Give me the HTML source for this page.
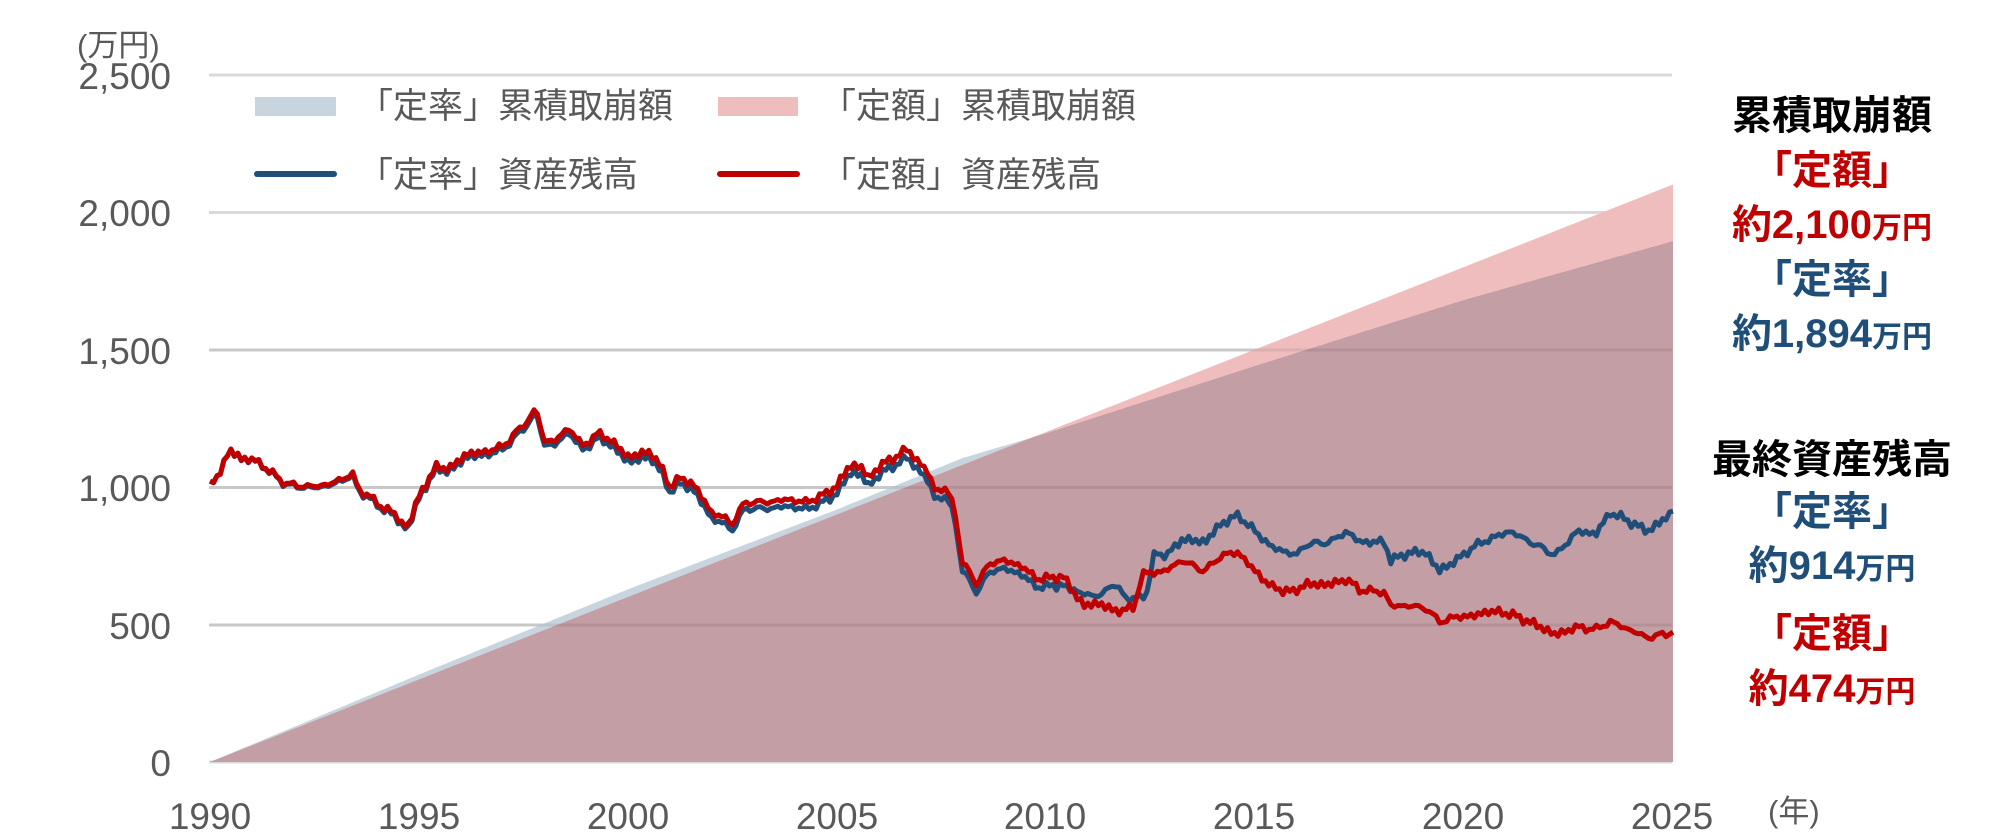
<!DOCTYPE html>
<html><head><meta charset="utf-8">
<style>
html,body{margin:0;padding:0;background:#fff;}
body{width:2000px;height:833px;overflow:hidden;}
svg text{font-family:"Liberation Sans","Noto Sans CJK JP",sans-serif;}
</style></head>
<body>
<svg id="s" width="2000" height="833" xmlns="http://www.w3.org/2000/svg">
<g stroke="#d9d9d9" stroke-width="3">
<line x1="209" y1="75" x2="1672" y2="75"/>
<line x1="209" y1="212.5" x2="1672" y2="212.5"/>
<line x1="209" y1="350" x2="1672" y2="350"/>
<line x1="209" y1="487.5" x2="1672" y2="487.5"/>
<line x1="209" y1="625" x2="1672" y2="625"/>
<line x1="209" y1="762" x2="1672" y2="762"/>
</g>
<g id="areas"></g>
<g stroke="#000" stroke-opacity="0.08" stroke-width="3">
<line x1="209" y1="487.5" x2="1672" y2="487.5"/>
<line x1="209" y1="625" x2="1672" y2="625"/>
<line x1="209" y1="350" x2="1672" y2="350"/>
</g>
<g id="lines"></g>
<g font-size="37" fill="#595959" text-anchor="end">
<text x="171" y="89">2,500</text>
<text x="171" y="226">2,000</text>
<text x="171" y="364">1,500</text>
<text x="171" y="501">1,000</text>
<text x="171" y="639">500</text>
<text x="171" y="776">0</text>
</g>
<text x="77" y="56" font-size="31" fill="#595959">(万円)</text>
<g font-size="37" fill="#595959" text-anchor="middle">
<text x="210" y="829">1990</text>
<text x="419" y="829">1995</text>
<text x="628" y="829">2000</text>
<text x="837" y="829">2005</text>
<text x="1045" y="829">2010</text>
<text x="1254" y="829">2015</text>
<text x="1463" y="829">2020</text>
<text x="1672" y="829">2025</text>
</g>
<text x="1768" y="822" font-size="31" fill="#595959">(年)</text>
<rect x="255" y="97" width="81" height="19" fill="#c8d4de"/>
<rect x="718" y="97" width="80" height="19" fill="#efbdbe"/>
<line x1="257" y1="174" x2="334" y2="174" stroke="#1f4e79" stroke-width="6" stroke-linecap="round"/>
<line x1="720" y1="174" x2="797" y2="174" stroke="#c00000" stroke-width="6" stroke-linecap="round"/>
<g font-size="35" fill="#595959">
<text x="358" y="118">「定率」累積取崩額</text>
<text x="821" y="118">「定額」累積取崩額</text>
<text x="358" y="187">「定率」資産残高</text>
<text x="821" y="187">「定額」資産残高</text>
</g>
<g font-weight="bold" text-anchor="middle">
<text x="1832" y="129" font-size="40" fill="#000">累積取崩額</text>
<text x="1832" y="184" font-size="40" fill="#c00000">「定額」</text>
<text x="1832" y="238" font-size="40" fill="#c00000">約2,100<tspan font-size="30">万円</tspan></text>
<text x="1832" y="293" font-size="40" fill="#1f4e79">「定率」</text>
<text x="1832" y="347" font-size="40" fill="#1f4e79">約1,894<tspan font-size="30">万円</tspan></text>
<text x="1832" y="473" font-size="40" fill="#000">最終資産残高</text>
<text x="1832" y="525" font-size="40" fill="#1f4e79">「定率」</text>
<text x="1832" y="579" font-size="40" fill="#1f4e79">約914<tspan font-size="30">万円</tspan></text>
<text x="1832" y="647" font-size="40" fill="#c00000">「定額」</text>
<text x="1832" y="702" font-size="40" fill="#c00000">約474<tspan font-size="30">万円</tspan></text>
</g>
</svg>
<script>
(function(){
var NS="http://www.w3.org/2000/svg";
function X(t){return 210+(t-1990)*41.8;}
function Y(v){return 762-v*0.275;}
function interp(pts,t){
 if(t<=pts[0][0])return pts[0][1];
 for(var i=1;i<pts.length;i++){if(t<=pts[i][0]){var a=pts[i-1],b=pts[i];return a[1]+(b[1]-a[1])*(t-a[0])/(b[0]-a[0]);}}
 return pts[pts.length-1][1];
}
var red=[[1990,1003],[1990.15,1032],[1990.46,1129],[1990.65,1120],[1990.77,1100],[1991.07,1100],[1991.4,1061],[1991.8,1013],[1992.2,1003],[1992.6,1003],[1993.05,1020],[1993.4,1051],[1993.55,990],[1993.8,970],[1994.1,926],[1994.35,915],[1994.6,862],[1994.75,865],[1995,965],[1995.2,1023],[1995.4,1071],[1995.8,1071],[1996.1,1119],[1996.6,1128],[1997,1148],[1997.5,1225],[1997.8,1283],[1998.0,1168],[1998.25,1168],[1998.6,1216],[1998.9,1148],[1999.3,1196],[1999.6,1168],[2000,1110],[2000.3,1120],[2000.55,1129],[2000.86,1052],[2001,1003],[2001.25,1032],[2001.55,1013],[2001.8,955],[2002.0,907],[2002.3,888],[2002.5,868],[2002.8,945],[2003.35,945],[2003.8,955],[2004.25,945],[2004.6,965],[2005.0,1003],[2005.3,1080],[2005.6,1071],[2005.75,1032],[2006.05,1080],[2006.4,1110],[2006.7,1138],[2007.0,1080],[2007.2,1051],[2007.35,984],[2007.6,994],[2007.8,935],[2008.0,723],[2008.2,684],[2008.35,646],[2008.65,723],[2009,733],[2009.4,713],[2009.8,665],[2010.4,675],[2010.9,568],[2011.3,578],[2011.6,549],[2012.1,559],[2012.3,684],[2012.85,694],[2013.25,733],[2013.8,694],[2014.2,752],[2014.6,762],[2015.0,694],[2015.4,636],[2015.9,617],[2016.2,646],[2016.8,646],[2017.2,665],[2017.5,626],[2018.1,617],[2018.25,568],[2018.7,568],[2019.1,559],[2019.4,510],[2019.9,530],[2020.2,530],[2020.6,549],[2021.1,539],[2021.7,501],[2022.2,462],[2022.7,491],[2023.15,482],[2023.5,510],[2023.8,491],[2024.4,452],[2025,472]];
var blue2=[[2010.4,665],[2011.1,597],[2011.7,646],[2011.95,588],[2012.4,607],[2012.6,762],[2012.9,752],[2013.25,810],[2013.8,800],[2014.2,868],[2014.6,897],[2015,839],[2015.4,781],[2016,752],[2016.2,791],[2016.8,800],[2017.2,839],[2017.5,800],[2018.1,800],[2018.25,733],[2018.7,762],[2019.1,762],[2019.4,694],[2019.9,742],[2020.2,781],[2020.6,810],[2021.1,839],[2021.7,791],[2022.2,752],[2022.7,839],[2023.15,829],[2023.5,907],[2023.8,887],[2024.4,839],[2025,907]];
var bcum=[[1990,0],[1995,318],[2000,628],[2005,918],[2008,1105],[2010,1195],[2015,1440],[2020,1680],[2025,1894]];
function noise(t){return 9*Math.sin(t*37.1)+6*Math.sin(t*91.7+1)+4*Math.sin(t*213.3+2);}
var N=420,pr=[],pb=[];
var topB=[],topP=[];
for(var i=0;i<=N;i++){
 var t=1990+35*i/N;
 var r=interp(red,t)+noise(t);
 var off=Math.min(30,(t-1990)*1.8);
 var b;
 if(t<2010.4)b=r-off;
 else{var w=Math.min(1,(t-2010.4)/0.4);var b2=interp(blue2,t)+noise(t+0.3);b=(1-w)*(r-off)+w*b2;}
 if(i==N){r=472;b=912;}
 pr.push(X(t).toFixed(1)+","+Y(r).toFixed(1));
 pb.push(X(t).toFixed(1)+","+Y(b).toFixed(1));
 var pc=2100*(t-1990)/35, bc=interp(bcum,t);
 topB.push([X(t),Y(bc)]);topP.push([X(t),Y(pc)]);
}
function area(tops,fill){
 var d="M"+X(1990)+","+Y(0);
 tops.forEach(function(p){d+="L"+p[0].toFixed(1)+","+p[1].toFixed(1);});
 d+="L"+X(2025)+","+Y(0)+"Z";
 var e=document.createElementNS(NS,"path");e.setAttribute("d",d);e.setAttribute("fill",fill);
 document.getElementById("areas").appendChild(e);
}
area(topB,"#c8d4de");
area(topP,"#efbdbe");
area(topB.map(function(p,i){return [p[0],Math.max(p[1],topP[i][1])];}),"#c49ea5");
function line(pts,col){
 var e=document.createElementNS(NS,"polyline");e.setAttribute("points",pts.join(" "));
 e.setAttribute("fill","none");e.setAttribute("stroke",col);e.setAttribute("stroke-width","5");e.setAttribute("stroke-linejoin","round");
 document.getElementById("lines").appendChild(e);
}
line(pb,"#1f4e79");
line(pr,"#c00000");
})();
</script>
</body></html>
